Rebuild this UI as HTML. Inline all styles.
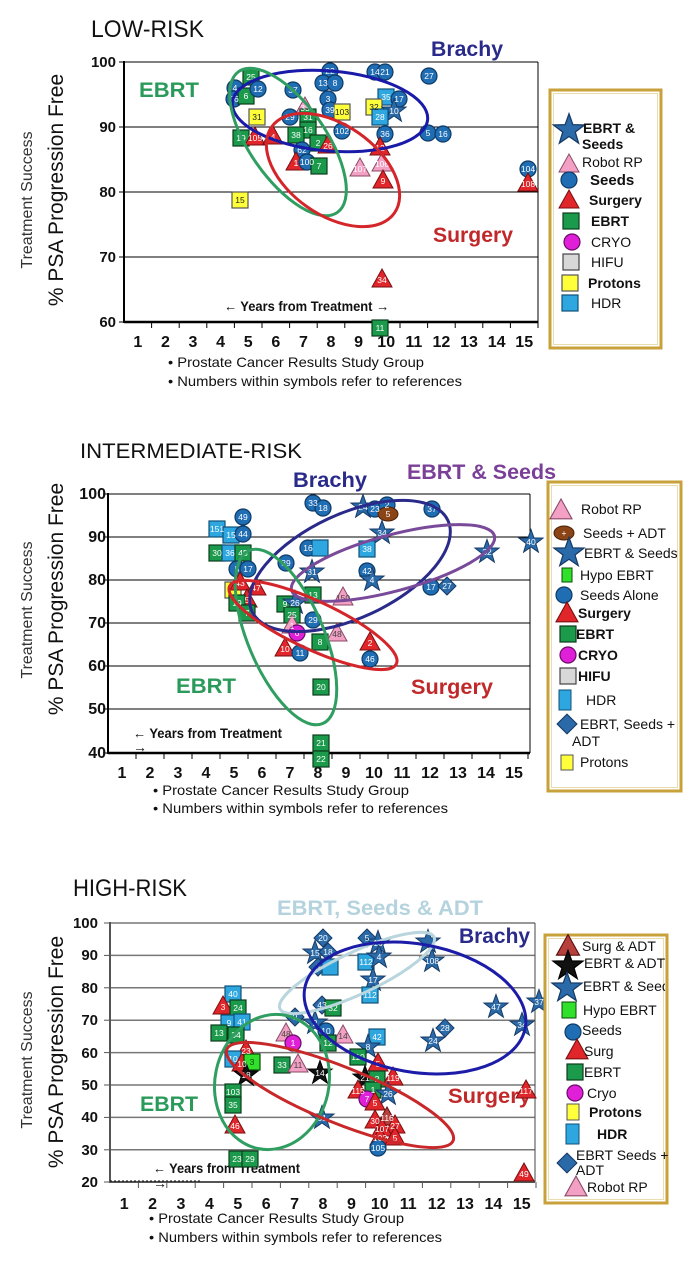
<!DOCTYPE html>
<html><head><meta charset="utf-8">
<style>
html,body{margin:0;padding:0;background:#fff;}
svg{display:block;}
.n{font:8.5px "Liberation Sans Narrow","Liberation Sans",sans-serif;fill:#fff;text-anchor:middle}
.yl{font:bold 15px "Liberation Sans Narrow","Liberation Sans",sans-serif;text-anchor:end;fill:#111}
.xl{font:bold 16px "Liberation Sans Narrow","Liberation Sans",sans-serif;text-anchor:middle;fill:#111}
.fn{font:14px "Liberation Sans Narrow","Liberation Sans",sans-serif;fill:#111}
.yr{font:bold 14px "Liberation Sans Narrow","Liberation Sans",sans-serif;fill:#111}
.lg{font:14px "Liberation Sans Narrow","Liberation Sans",sans-serif;fill:#111}
.lgb{font:bold 14px "Liberation Sans Narrow","Liberation Sans",sans-serif;fill:#111}
.ttl{font:24px "Liberation Sans",sans-serif;fill:#111}
.ax1{font:21px "Liberation Sans",sans-serif;text-anchor:middle;fill:#111}
.ax2{font:16px "Liberation Sans",sans-serif;fill:#333;text-anchor:middle}
.cat{font:bold 21px "Liberation Sans",sans-serif}
.g{stroke:#000;stroke-width:1}
.g3{stroke:#777;stroke-width:1.5}
.el{fill:none;stroke-width:3}
</style></head><body>
<svg width="694" height="1276" viewBox="0 0 694 1276" xmlns="http://www.w3.org/2000/svg">
<defs>
<g id="C"><circle r="8" fill="#1f6db3" stroke="#0e3a66" stroke-width="1.2"/></g>
<g id="M"><circle r="8" fill="#e020d8" stroke="#6a0a66" stroke-width="1.2"/></g>
<g id="E"><rect x="-8" y="-8" width="16" height="16" fill="#1c9a4c" stroke="#0a3d1c" stroke-width="1.2"/></g>
<g id="G"><rect x="-8" y="-8" width="16" height="16" fill="#30e02a" stroke="#0a4a0a" stroke-width="1.2"/></g>
<g id="Y"><rect x="-8" y="-8" width="16" height="16" fill="#ffff3a" stroke="#555" stroke-width="1.2"/></g>
<g id="H"><rect x="-8" y="-8" width="16" height="16" fill="#2ea6e0" stroke="#0f5278" stroke-width="1.2"/></g>
<g id="Q"><rect x="-8" y="-8" width="16" height="16" fill="#d8d8d8" stroke="#444" stroke-width="1.2"/></g>
<g id="T"><polygon points="0,-10 10,8 -10,8" fill="#e0262a" stroke="#7a0e10" stroke-width="1"/></g>
<g id="A"><polygon points="0,-10 10,8 -10,8" fill="#b8403c" stroke="#5a1010" stroke-width="1"/></g>
<g id="P"><polygon points="0,-10 10,8 -10,8" fill="#f2a0c4" stroke="#8a4a66" stroke-width="1"/></g>
<g id="S"><polygon points="0,-12.5 3,-4.1 12,-3.9 4.8,1.6 7.4,10.1 0,5 -7.4,10.1 -4.8,1.6 -12,-3.9 -3,-4.1" fill="#2a6aa8" stroke="#163a66" stroke-width="1"/></g>
<g id="K"><polygon points="0,-12.5 3,-4.1 12,-3.9 4.8,1.6 7.4,10.1 0,5 -7.4,10.1 -4.8,1.6 -12,-3.9 -3,-4.1" fill="#111" stroke="#000" stroke-width="1"/></g>
<g id="D"><polygon points="0,-9 9,0 0,9 -9,0" fill="#2a6aa8" stroke="#163a66" stroke-width="1"/></g>
<g id="B"><ellipse rx="10" ry="7" fill="#8a4416" stroke="#4a2008" stroke-width="1"/></g>
</defs>

<!-- ================= CHART 1 : LOW-RISK ================= -->
<text class="ttl" x="91" y="37" textLength="113" lengthAdjust="spacingAndGlyphs">LOW-RISK</text>
<text class="ax2" transform="translate(32,200) rotate(-90)">Treatment Success</text>
<text class="ax1" transform="translate(63,190) rotate(-90)">% PSA Progression Free</text>

<line class="g" x1="124" y1="62" x2="538" y2="62"/>
<line class="g" x1="124" y1="127" x2="538" y2="127"/>
<line class="g" x1="124" y1="192" x2="538" y2="192"/>
<line class="g" x1="124" y1="257" x2="538" y2="257"/>
<line x1="538" y1="62" x2="538" y2="322" stroke="#000" stroke-width="1"/>
<line x1="124" y1="61" x2="124" y2="323" stroke="#000" stroke-width="2"/>
<line x1="124" y1="322" x2="538" y2="322" stroke="#000" stroke-width="2.5"/>
<g stroke="#000" stroke-width="1">
<line x1="119" y1="62" x2="124" y2="62"/><line x1="119" y1="127" x2="124" y2="127"/><line x1="119" y1="192" x2="124" y2="192"/><line x1="119" y1="257" x2="124" y2="257"/><line x1="119" y1="322" x2="124" y2="322"/>
<line x1="151.6" y1="322" x2="151.6" y2="328"/><line x1="179.2" y1="322" x2="179.2" y2="328"/><line x1="206.8" y1="322" x2="206.8" y2="328"/><line x1="234.4" y1="322" x2="234.4" y2="328"/><line x1="262" y1="322" x2="262" y2="328"/><line x1="289.6" y1="322" x2="289.6" y2="328"/><line x1="317.2" y1="322" x2="317.2" y2="328"/><line x1="344.8" y1="322" x2="344.8" y2="328"/><line x1="372.4" y1="322" x2="372.4" y2="328"/><line x1="400" y1="322" x2="400" y2="328"/><line x1="427.6" y1="322" x2="427.6" y2="328"/><line x1="455.2" y1="322" x2="455.2" y2="328"/><line x1="482.8" y1="322" x2="482.8" y2="328"/><line x1="510.4" y1="322" x2="510.4" y2="328"/><line x1="538" y1="322" x2="538" y2="328"/>
</g>
<text class="yl" x="116" y="67">100</text><text class="yl" x="116" y="132">90</text><text class="yl" x="116" y="197">80</text><text class="yl" x="116" y="262">70</text><text class="yl" x="116" y="327">60</text>
<g class="xl"><text x="137.8" y="347">1</text><text x="165.4" y="347">2</text><text x="193" y="347">3</text><text x="220.6" y="347">4</text><text x="248.2" y="347">5</text><text x="275.8" y="347">6</text><text x="303.4" y="347">7</text><text x="331" y="347">8</text><text x="358.6" y="347">9</text><text x="386.2" y="347">10</text><text x="413.8" y="347">11</text><text x="441.4" y="347">12</text><text x="469" y="347">13</text><text x="496.6" y="347">14</text><text x="524.2" y="347">15</text></g>
<text class="fn" x="168" y="367" textLength="256" lengthAdjust="spacingAndGlyphs">• Prostate Cancer Results Study Group</text>
<text class="fn" x="168" y="386" textLength="294" lengthAdjust="spacingAndGlyphs">• Numbers within symbols refer to references</text>
<text class="yr" x="224" y="311" textLength="165" lengthAdjust="spacingAndGlyphs">← Years from Treatment →</text>

<text class="cat" x="139" y="97" fill="#2a9a5a" textLength="60" lengthAdjust="spacingAndGlyphs">EBRT</text>
<text class="cat" x="431" y="56" fill="#2a2a8a" textLength="72" lengthAdjust="spacingAndGlyphs">Brachy</text>
<text class="cat" x="433" y="242" fill="#c0282a" textLength="80" lengthAdjust="spacingAndGlyphs">Surgery</text>

<!-- markers chart 1 -->
<use href="#E" x="251" y="77"/><use href="#C" x="235" y="88"/><use href="#C" x="234" y="99"/><use href="#E" x="246" y="96"/><use href="#C" x="258" y="89"/><use href="#C" x="293" y="90"/>
<use href="#Y" x="257" y="117"/><use href="#P" x="305" y="107"/><use href="#C" x="290" y="117"/><use href="#E" x="308" y="117"/><use href="#E" x="308" y="130"/><use href="#E" x="296" y="135"/>
<use href="#E" x="241" y="138"/><use href="#T" x="255" y="137"/><use href="#T" x="273" y="136"/><use href="#E" x="318" y="143"/><use href="#T" x="328" y="145"/>
<use href="#C" x="302" y="150"/><use href="#T" x="296" y="162"/><use href="#C" x="307" y="162"/><use href="#E" x="319" y="166"/>
<use href="#C" x="330" y="71"/><use href="#C" x="323" y="83"/><use href="#C" x="335" y="83"/><use href="#C" x="328" y="99"/><use href="#C" x="330" y="110"/><use href="#Y" x="342" y="112"/><use href="#C" x="342" y="131"/>
<use href="#C" x="375" y="72"/><use href="#C" x="385" y="72"/><use href="#C" x="429" y="76"/><use href="#H" x="386" y="97"/><use href="#C" x="399" y="99"/><use href="#Y" x="374" y="107"/><use href="#S" x="394" y="111"/><use href="#H" x="380" y="117"/>
<use href="#C" x="385" y="134"/><use href="#C" x="428" y="133"/><use href="#C" x="443" y="134"/><use href="#T" x="380" y="147"/><use href="#P" x="360" y="168"/><use href="#P" x="382" y="163"/><use href="#T" x="383" y="180"/>
<use href="#C" x="528" y="169"/><use href="#T" x="528" y="183"/><use href="#Y" x="240" y="200"/><use href="#T" x="382" y="279"/><use href="#E" x="380" y="328"/>
<g class="n">
<text x="251" y="80">25</text><text x="235" y="91">4</text><text x="234" y="102">36</text><text x="246" y="99">6</text><text x="258" y="92">12</text><text x="293" y="93">37</text>
<text x="257" y="120" fill="#222">31</text><text x="305" y="111">33</text><text x="290" y="120">29</text><text x="308" y="120">31</text><text x="308" y="133">16</text><text x="296" y="138">38</text>
<text x="241" y="141">19</text><text x="255" y="141">105</text><text x="273" y="140">4</text><text x="318" y="146">2</text><text x="328" y="149">26</text>
<text x="302" y="153">62</text><text x="296" y="166">1</text><text x="307" y="165">100</text><text x="319" y="169">7</text>
<text x="330" y="74">22</text><text x="323" y="86">13</text><text x="335" y="86">8</text><text x="328" y="102">3</text><text x="330" y="113">39</text><text x="342" y="115" fill="#222">103</text><text x="342" y="134">102</text>
<text x="375" y="75">14</text><text x="385" y="75">21</text><text x="429" y="79">27</text><text x="386" y="100">35</text><text x="399" y="102">17</text><text x="374" y="110" fill="#222">32</text><text x="394" y="114">10</text><text x="380" y="120">28</text>
<text x="385" y="137">36</text><text x="428" y="136">5</text><text x="443" y="137">16</text><text x="380" y="151">12</text><text x="360" y="172">107</text><text x="382" y="167">106</text><text x="383" y="184">9</text>
<text x="528" y="172">104</text><text x="528" y="187">108</text><text x="240" y="203" fill="#222">15</text><text x="382" y="283">34</text><text x="380" y="331">11</text>
</g>
<!-- ellipses chart 1 -->
<ellipse class="el" stroke="#1a1aa8" cx="330" cy="111" rx="98" ry="40" transform="rotate(5 330 111)"/>
<ellipse class="el" stroke="#2f9e60" cx="288" cy="142" rx="86" ry="38" transform="rotate(55 288 142)"/>
<ellipse class="el" stroke="#d4262a" cx="333" cy="170" rx="75" ry="45" transform="rotate(35 333 170)"/>

<!-- legend chart 1 -->
<rect x="550" y="90" width="111" height="258" fill="#fff" stroke="#c8a13a" stroke-width="3"/>
<rect x="553.5" y="93.5" width="104" height="251" fill="none" stroke="#eadcae" stroke-width="1"/>
<use href="#S" transform="translate(569,130) scale(1.3)"/>
<use href="#P" x="569" y="164"/><use href="#C" x="569" y="180"/>
<use href="#T" x="569" y="200"/><use href="#E" x="571" y="221"/><use href="#M" x="572" y="242"/><use href="#Q" x="571" y="262"/><use href="#Y" x="570" y="283"/><use href="#H" x="570" y="303"/>
<text class="lgb" x="583" y="133">EBRT &amp;</text><text class="lgb" x="582" y="149">Seeds</text>
<text class="lg" x="582" y="167">Robot RP</text><text class="lgb" x="590" y="185" style="font-size:15px">Seeds</text>
<text class="lgb" x="589" y="205">Surgery</text><text class="lgb" x="591" y="226">EBRT</text>
<text class="lg" x="591" y="247">CRYO</text><text class="lg" x="591" y="267">HIFU</text>
<text class="lgb" x="588" y="288" style="font-weight:600">Protons</text><text class="lg" x="591" y="308">HDR</text>

<!-- ================= CHART 2 : INTERMEDIATE-RISK ================= -->
<text class="ttl" x="80" y="458" style="font-size:21px" textLength="222" lengthAdjust="spacingAndGlyphs">INTERMEDIATE-RISK</text>
<text class="ax2" transform="translate(32,610) rotate(-90)">Treatment Success</text>
<text class="ax1" transform="translate(63,599) rotate(-90)">% PSA Progression Free</text>

<line class="g" x1="108" y1="494" x2="530" y2="494"/>
<line class="g" x1="108" y1="537" x2="530" y2="537"/>
<line class="g" x1="108" y1="580" x2="530" y2="580"/>
<line class="g" x1="108" y1="623" x2="530" y2="623"/>
<line class="g" x1="108" y1="666" x2="530" y2="666"/>
<line class="g" x1="108" y1="709" x2="530" y2="709"/>
<line x1="530" y1="494" x2="530" y2="753" stroke="#000" stroke-width="1"/>
<line x1="108" y1="493" x2="108" y2="754" stroke="#000" stroke-width="2"/>
<line x1="108" y1="753" x2="530" y2="753" stroke="#000" stroke-width="2.5"/>
<g stroke="#000" stroke-width="1">
<line x1="103" y1="494" x2="108" y2="494"/><line x1="103" y1="537" x2="108" y2="537"/><line x1="103" y1="580" x2="108" y2="580"/><line x1="103" y1="623" x2="108" y2="623"/><line x1="103" y1="666" x2="108" y2="666"/><line x1="103" y1="709" x2="108" y2="709"/><line x1="103" y1="753" x2="108" y2="753"/>
<line x1="136" y1="753" x2="136" y2="759"/><line x1="164" y1="753" x2="164" y2="759"/><line x1="192" y1="753" x2="192" y2="759"/><line x1="220" y1="753" x2="220" y2="759"/><line x1="248" y1="753" x2="248" y2="759"/><line x1="276" y1="753" x2="276" y2="759"/><line x1="304" y1="753" x2="304" y2="759"/><line x1="332" y1="753" x2="332" y2="759"/><line x1="360" y1="753" x2="360" y2="759"/><line x1="388" y1="753" x2="388" y2="759"/><line x1="416" y1="753" x2="416" y2="759"/><line x1="444" y1="753" x2="444" y2="759"/><line x1="472" y1="753" x2="472" y2="759"/><line x1="500" y1="753" x2="500" y2="759"/><line x1="528" y1="753" x2="528" y2="759"/>
</g>
<text class="yl" x="106" y="499" style="font-size:16px">100</text><text class="yl" x="106" y="542" style="font-size:16px">90</text><text class="yl" x="106" y="585" style="font-size:16px">80</text><text class="yl" x="106" y="628" style="font-size:16px">70</text><text class="yl" x="106" y="671" style="font-size:16px">60</text><text class="yl" x="106" y="714" style="font-size:16px">50</text><text class="yl" x="106" y="758" style="font-size:16px">40</text>
<g class="xl"><text x="122" y="778">1</text><text x="150" y="778">2</text><text x="178" y="778">3</text><text x="206" y="778">4</text><text x="234" y="778">5</text><text x="262" y="778">6</text><text x="290" y="778">7</text><text x="318" y="778">8</text><text x="346" y="778">9</text><text x="374" y="778">10</text><text x="402" y="778">11</text><text x="430" y="778">12</text><text x="458" y="778">13</text><text x="486" y="778">14</text><text x="514" y="778">15</text></g>
<text class="fn" x="153" y="795" textLength="256" lengthAdjust="spacingAndGlyphs">• Prostate Cancer Results Study Group</text>
<text class="fn" x="153" y="813" textLength="295" lengthAdjust="spacingAndGlyphs">• Numbers within symbols refer to references</text>
<text class="yr" x="133" y="738" textLength="149" lengthAdjust="spacingAndGlyphs">← Years from Treatment</text>
<text class="yr" x="133" y="752">→</text>

<text class="cat" x="293" y="487" fill="#2a2a8a" textLength="74" lengthAdjust="spacingAndGlyphs">Brachy</text>
<text class="cat" x="407" y="479" fill="#7b3f98" textLength="149" lengthAdjust="spacingAndGlyphs">EBRT &amp; Seeds</text>
<text class="cat" x="176" y="693" fill="#2a9a5a" textLength="60" lengthAdjust="spacingAndGlyphs">EBRT</text>
<text class="cat" x="411" y="694" fill="#c0282a" textLength="82" lengthAdjust="spacingAndGlyphs">Surgery</text>

<!-- markers chart 2 -->
<use href="#C" x="313" y="503"/><use href="#C" x="323" y="508"/><use href="#S" x="363" y="507"/><use href="#C" x="375" y="509"/><use href="#C" x="387" y="505"/><use href="#B" x="388" y="514"/><use href="#C" x="432" y="509"/>
<use href="#C" x="243" y="517"/><use href="#H" x="217" y="529"/><use href="#H" x="231" y="535"/><use href="#C" x="243" y="534"/><use href="#S" x="382" y="533"/>
<use href="#C" x="308" y="548"/><use href="#H" x="320" y="548"/><use href="#H" x="367" y="549"/><use href="#S" x="487" y="552"/><use href="#S" x="531" y="542"/>
<use href="#E" x="217" y="553"/><use href="#H" x="230" y="553"/><use href="#E" x="243" y="553"/><use href="#C" x="286" y="563"/><use href="#C" x="237" y="569"/><use href="#C" x="248" y="569"/>
<use href="#S" x="312" y="572"/><use href="#C" x="367" y="571"/><use href="#S" x="372" y="580"/><use href="#C" x="431" y="587"/><use href="#D" x="447" y="586"/>
<use href="#Y" x="233" y="590"/><use href="#T" x="240" y="582"/><use href="#T" x="256" y="587"/><use href="#E" x="313" y="595"/><use href="#P" x="343" y="597"/><use href="#T" x="247" y="599"/>
<use href="#E" x="237" y="603"/><use href="#E" x="285" y="604"/><use href="#S" x="295" y="603"/><use href="#E" x="247" y="613"/><use href="#E" x="292" y="615"/><use href="#C" x="313" y="620"/>
<use href="#P" x="292" y="625"/><use href="#M" x="297" y="633"/><use href="#P" x="337" y="633"/><use href="#E" x="320" y="642"/><use href="#T" x="370" y="642"/><use href="#T" x="285" y="648"/><use href="#C" x="300" y="653"/><use href="#C" x="370" y="659"/>
<use href="#E" x="321" y="687"/><use href="#E" x="321" y="743"/><use href="#E" x="321" y="759"/>
<g class="n">
<text x="313" y="506">33</text><text x="323" y="511">18</text><text x="363" y="510">24</text><text x="375" y="512">23</text><text x="387" y="508">2</text><text x="388" y="517">5</text><text x="432" y="512">37</text>
<text x="243" y="520">49</text><text x="217" y="532">151</text><text x="231" y="538">15</text><text x="243" y="537">44</text><text x="382" y="536">34</text>
<text x="308" y="551">16</text><text x="367" y="552">38</text><text x="487" y="555">32</text><text x="531" y="545">40</text>
<text x="217" y="556">30</text><text x="230" y="556">36</text><text x="243" y="556">45</text><text x="286" y="566">39</text><text x="237" y="572">5</text><text x="248" y="572">17</text>
<text x="312" y="575">31</text><text x="367" y="574">42</text><text x="372" y="583">4</text><text x="431" y="590">17</text><text x="447" y="589">27</text>
<text x="240" y="586">43</text><text x="256" y="591">47</text><text x="313" y="598">13</text><text x="343" y="601" fill="#444">150</text><text x="247" y="603">5</text>
<text x="237" y="606">19</text><text x="285" y="607">9</text><text x="295" y="606">26</text><text x="247" y="616">7</text><text x="292" y="618">25</text><text x="313" y="623">29</text>
<text x="292" y="629">1</text><text x="297" y="636">6</text><text x="337" y="637" fill="#444">48</text><text x="320" y="645">8</text><text x="370" y="646">2</text><text x="285" y="652">10</text><text x="300" y="656">11</text><text x="370" y="662">46</text>
<text x="321" y="690">20</text><text x="321" y="746">21</text><text x="321" y="762">22</text>
</g>
<!-- ellipses chart 2 -->
<ellipse class="el" stroke="#2a2a8a" cx="350" cy="566" rx="108" ry="52" transform="rotate(-25 350 566)"/>
<ellipse class="el" stroke="#7a4a9a" cx="393" cy="563" rx="105" ry="28" transform="rotate(-15 393 563)"/>
<ellipse class="el" stroke="#2f9e60" cx="286" cy="637" rx="94" ry="38" transform="rotate(67 286 637)"/>
<ellipse class="el" stroke="#d4262a" cx="313" cy="625" rx="92" ry="24" transform="rotate(25 313 625)"/>

<!-- legend chart 2 -->
<rect x="548" y="482" width="133" height="309" fill="#fff" stroke="#c8a13a" stroke-width="3"/>
<rect x="551.5" y="485.5" width="126" height="302" fill="none" stroke="#eadcae" stroke-width="1"/>
<use href="#P" transform="translate(561,510) scale(1.1)"/>
<g transform="translate(564,533)"><use href="#B"/><text class="n" x="0" y="3">+</text></g>
<use href="#S" transform="translate(569,553) scale(1.25)"/>
<rect x="562" y="568" width="10" height="14" fill="#30e02a" stroke="#0a4a0a"/>
<use href="#C" x="564" y="595"/>
<use href="#T" transform="translate(567,613) scale(1.1)"/>
<use href="#E" x="568" y="634"/><use href="#M" x="568" y="655"/><use href="#Q" x="568" y="676"/>
<rect x="559" y="690" width="12" height="20" fill="#2ea6e0" stroke="#0f5278"/>
<use href="#D" transform="translate(567,724) scale(1.1)"/>
<rect x="561" y="755" width="12" height="15" fill="#ffff3a" stroke="#555"/>
<text class="lg" x="581" y="514">Robot RP</text>
<text class="lg" x="583" y="538">Seeds + ADT</text>
<text class="lg" x="584" y="558">EBRT &amp; Seeds</text>
<text class="lg" x="580" y="580">Hypo EBRT</text>
<text class="lg" x="580" y="600">Seeds Alone</text>
<text class="lgb" x="578" y="618">Surgery</text>
<text class="lgb" x="576" y="639">EBRT</text>
<text class="lgb" x="578" y="660">CRYO</text>
<text class="lgb" x="578" y="681">HIFU</text>
<text class="lg" x="586" y="705">HDR</text>
<text class="lg" x="580" y="729">EBRT, Seeds +</text>
<text class="lg" x="572" y="746">ADT</text>
<text class="lg" x="580" y="767">Protons</text>

<!-- ================= CHART 3 : HIGH-RISK ================= -->
<text class="ttl" x="73" y="896" textLength="114" lengthAdjust="spacingAndGlyphs">HIGH-RISK</text>
<text class="ax2" transform="translate(32,1060) rotate(-90)">Treatment Success</text>
<text class="ax1" transform="translate(63,1052) rotate(-90)">% PSA Progression Free</text>

<g class="g3">
<line x1="110" y1="923" x2="535" y2="923"/><line x1="110" y1="955.4" x2="535" y2="955.4"/><line x1="110" y1="987.8" x2="535" y2="987.8"/><line x1="110" y1="1020.2" x2="535" y2="1020.2"/><line x1="110" y1="1052.6" x2="535" y2="1052.6"/><line x1="110" y1="1085" x2="535" y2="1085"/><line x1="110" y1="1117.4" x2="535" y2="1117.4"/><line x1="110" y1="1149.8" x2="535" y2="1149.8"/>
</g>
<line x1="535" y1="923" x2="535" y2="1182" stroke="#444" stroke-width="1"/>
<line x1="110" y1="922" x2="110" y2="1183" stroke="#555" stroke-width="2"/>
<line x1="110" y1="1182" x2="535" y2="1182" stroke="#555" stroke-width="2"/>
<g stroke="#555" stroke-width="1">
<line x1="104" y1="923" x2="110" y2="923"/><line x1="104" y1="955.4" x2="110" y2="955.4"/><line x1="104" y1="987.8" x2="110" y2="987.8"/><line x1="104" y1="1020.2" x2="110" y2="1020.2"/><line x1="104" y1="1052.6" x2="110" y2="1052.6"/><line x1="104" y1="1085" x2="110" y2="1085"/><line x1="104" y1="1117.4" x2="110" y2="1117.4"/><line x1="104" y1="1149.8" x2="110" y2="1149.8"/><line x1="104" y1="1182" x2="110" y2="1182"/>
<line x1="138.4" y1="1182" x2="138.4" y2="1188"/><line x1="166.8" y1="1182" x2="166.8" y2="1188"/><line x1="195.2" y1="1182" x2="195.2" y2="1188"/><line x1="223.6" y1="1182" x2="223.6" y2="1188"/><line x1="252" y1="1182" x2="252" y2="1188"/><line x1="280.4" y1="1182" x2="280.4" y2="1188"/><line x1="308.8" y1="1182" x2="308.8" y2="1188"/><line x1="337.2" y1="1182" x2="337.2" y2="1188"/><line x1="365.6" y1="1182" x2="365.6" y2="1188"/><line x1="394" y1="1182" x2="394" y2="1188"/><line x1="422.4" y1="1182" x2="422.4" y2="1188"/><line x1="450.8" y1="1182" x2="450.8" y2="1188"/><line x1="479.2" y1="1182" x2="479.2" y2="1188"/><line x1="507.6" y1="1182" x2="507.6" y2="1188"/><line x1="536" y1="1182" x2="536" y2="1188"/>
</g>
<line x1="110" y1="1181" x2="200" y2="1181" stroke="#000" stroke-width="1" stroke-dasharray="2,2"/>
<text class="yl" x="98" y="928">100</text><text class="yl" x="98" y="960">90</text><text class="yl" x="98" y="993">80</text><text class="yl" x="98" y="1025">70</text><text class="yl" x="98" y="1058">60</text><text class="yl" x="98" y="1090">50</text><text class="yl" x="98" y="1122">40</text><text class="yl" x="98" y="1155">30</text><text class="yl" x="98" y="1187">20</text>
<g class="xl"><text x="124.2" y="1209">1</text><text x="152.6" y="1209">2</text><text x="181" y="1209">3</text><text x="209.4" y="1209">4</text><text x="237.8" y="1209">5</text><text x="266.2" y="1209">6</text><text x="294.6" y="1209">7</text><text x="323" y="1209">8</text><text x="351.4" y="1209">9</text><text x="379.8" y="1209">10</text><text x="408.2" y="1209">11</text><text x="436.6" y="1209">12</text><text x="465" y="1209">13</text><text x="493.4" y="1209">14</text><text x="521.8" y="1209">15</text></g>
<text class="fn" x="149" y="1223" textLength="255" lengthAdjust="spacingAndGlyphs">• Prostate Cancer Results Study Group</text>
<text class="fn" x="149" y="1242" textLength="293" lengthAdjust="spacingAndGlyphs">• Numbers within symbols refer to references</text>
<text class="yr" x="153" y="1173" textLength="147" lengthAdjust="spacingAndGlyphs">← Years from Treatment</text>
<text class="yr" x="153" y="1188">→</text>

<text class="cat" x="277" y="915" fill="#b5d3de" textLength="206" lengthAdjust="spacingAndGlyphs">EBRT, Seeds &amp; ADT</text>
<text class="cat" x="459" y="943" fill="#2a2a8a" textLength="71" lengthAdjust="spacingAndGlyphs">Brachy</text>
<text class="cat" x="140" y="1111" fill="#2a9a5a" textLength="58" lengthAdjust="spacingAndGlyphs">EBRT</text>
<text class="cat" x="448" y="1103" fill="#c0282a" textLength="83" lengthAdjust="spacingAndGlyphs">Surgery</text>

<!-- markers chart 3 -->
<use href="#D" x="323" y="938"/><use href="#S" x="315" y="953"/><use href="#D" x="328" y="952"/><use href="#D" x="318" y="967"/><use href="#H" x="330" y="967"/>
<use href="#D" x="367" y="938"/><use href="#S" x="378" y="943"/><use href="#S" x="428" y="942"/><use href="#H" x="366" y="962"/><use href="#S" x="379" y="957"/><use href="#S" x="432" y="961"/>
<use href="#S" x="373" y="980"/><use href="#H" x="370" y="995"/><use href="#S" x="496" y="1007"/><use href="#S" x="539" y="1002"/><use href="#S" x="522" y="1025"/><use href="#D" x="445" y="1028"/><use href="#S" x="433" y="1041"/>
<use href="#H" x="233" y="994"/><use href="#T" x="223" y="1006"/><use href="#E" x="238" y="1008"/><use href="#H" x="229" y="1023"/><use href="#H" x="242" y="1022"/><use href="#E" x="219" y="1033"/><use href="#E" x="236" y="1035"/>
<use href="#D" x="322" y="1005"/><use href="#E" x="333" y="1008"/><use href="#D" x="295" y="1017"/><use href="#S" x="315" y="1023"/><use href="#P" x="286" y="1033"/><use href="#M" x="293" y="1043"/>
<use href="#C" x="326" y="1031"/><use href="#P" x="343" y="1035"/><use href="#E" x="328" y="1043"/><use href="#H" x="377" y="1037"/><use href="#S" x="368" y="1047"/><use href="#E" x="358" y="1057"/>
<use href="#T" x="246" y="1050"/><use href="#H" x="233" y="1059"/><use href="#T" x="242" y="1063"/><use href="#G" x="252" y="1062"/><use href="#K" x="246" y="1075"/>
<use href="#E" x="282" y="1065"/><use href="#P" x="298" y="1064"/><use href="#K" x="320" y="1073"/>
<use href="#T" x="378" y="1063"/><use href="#K" x="365" y="1078"/><use href="#E" x="377" y="1079"/><use href="#T" x="393" y="1077"/><use href="#T" x="358" y="1090"/><use href="#E" x="373" y="1090"/><use href="#S" x="388" y="1094"/>
<use href="#M" x="367" y="1099"/><use href="#T" x="375" y="1102"/>
<use href="#E" x="233" y="1092"/><use href="#E" x="233" y="1105"/><use href="#T" x="235" y="1125"/><use href="#S" x="322" y="1118"/>
<use href="#T" x="375" y="1120"/><use href="#A" x="387" y="1117"/><use href="#T" x="395" y="1125"/><use href="#T" x="382" y="1128"/><use href="#T" x="380" y="1137"/><use href="#T" x="395" y="1137"/><use href="#C" x="378" y="1148"/>
<use href="#E" x="237" y="1159"/><use href="#E" x="250" y="1159"/><use href="#T" x="526" y="1090"/><use href="#T" x="524" y="1173"/>
<g class="n">
<text x="323" y="941">20</text><text x="315" y="956">15</text><text x="328" y="955">18</text><text x="318" y="970">3</text>
<text x="367" y="941">5</text><text x="378" y="946">16</text><text x="366" y="965">112</text><text x="379" y="960">4</text><text x="432" y="964">108</text>
<text x="373" y="983">17</text><text x="370" y="998">112</text><text x="496" y="1010">47</text><text x="539" y="1005">37</text><text x="522" y="1028">34</text><text x="445" y="1031">28</text><text x="433" y="1044">24</text>
<text x="233" y="997">40</text><text x="223" y="1010">3</text><text x="238" y="1011">24</text><text x="229" y="1026">9</text><text x="242" y="1025">41</text><text x="219" y="1036">13</text><text x="236" y="1038">34</text>
<text x="322" y="1008">43</text><text x="333" y="1011">32</text><text x="295" y="1020">9</text><text x="315" y="1026">2</text><text x="286" y="1037" fill="#444">48</text><text x="293" y="1046">1</text>
<text x="326" y="1034">10</text><text x="343" y="1039" fill="#444">14</text><text x="328" y="1046">12</text><text x="377" y="1040">42</text><text x="368" y="1050">8</text><text x="358" y="1060">110</text>
<text x="246" y="1054">23</text><text x="233" y="1062">10</text><text x="242" y="1067">10</text><text x="252" y="1065" fill="#0a4a0a">3</text><text x="246" y="1078">18</text>
<text x="282" y="1068">33</text><text x="298" y="1068" fill="#444">11</text><text x="320" y="1076">14</text>
<text x="378" y="1067">5</text><text x="365" y="1081">21</text><text x="377" y="1082">2</text><text x="393" y="1081">119</text><text x="358" y="1094">115</text><text x="373" y="1093">1</text><text x="388" y="1097">26</text>
<text x="367" y="1102">7</text><text x="375" y="1106">5</text>
<text x="233" y="1095">103</text><text x="233" y="1108">35</text><text x="235" y="1129">46</text><text x="322" y="1121">31</text>
<text x="375" y="1124">30</text><text x="387" y="1121">116</text><text x="395" y="1129">27</text><text x="382" y="1132">107</text><text x="380" y="1141">102</text><text x="395" y="1141">5</text><text x="378" y="1151">105</text>
<text x="237" y="1162">23</text><text x="250" y="1162">29</text><text x="526" y="1094">117</text><text x="524" y="1177">49</text>
</g>
<!-- ellipses chart 3 -->
<ellipse class="el" stroke="#b9d5dd" cx="357" cy="973" rx="85" ry="21" transform="rotate(-25 357 973)"/>
<ellipse class="el" stroke="#1c1ca8" cx="415" cy="1008" rx="112" ry="64" transform="rotate(10 415 1008)"/>
<ellipse class="el" stroke="#2f9e60" cx="272" cy="1082" rx="68" ry="57" transform="rotate(102 272 1082)"/>
<ellipse class="el" stroke="#c8282a" cx="340" cy="1095" rx="122" ry="28" transform="rotate(22 340 1095)"/>

<!-- legend chart 3 -->
<rect x="545" y="935" width="122" height="268" fill="#fff" stroke="#c8a13a" stroke-width="3"/>
<rect x="548.5" y="938.5" width="115" height="261" fill="none" stroke="#eadcae" stroke-width="1"/>
<use href="#A" transform="translate(568,946) scale(1.15)"/>
<use href="#K" transform="translate(568,966) scale(1.25)"/>
<use href="#S" transform="translate(567,988) scale(1.25)"/>
<rect x="562" y="1002" width="14" height="16" fill="#30e02a" stroke="#0a4a0a"/>
<use href="#C" x="573" y="1032"/>
<use href="#T" transform="translate(577,1050) scale(1.1)"/>
<use href="#E" x="575" y="1072"/><use href="#M" x="575" y="1093"/>
<rect x="567" y="1104" width="12" height="16" fill="#ffff3a" stroke="#555"/>
<rect x="566" y="1124" width="13" height="20" fill="#2ea6e0" stroke="#0f5278"/>
<use href="#D" transform="translate(567,1163) scale(1.1)"/>
<use href="#P" transform="translate(576,1187) scale(1.1)"/>
<text class="lg" x="582" y="951">Surg &amp; ADT</text>
<text class="lg" x="584" y="968">EBRT &amp; ADT</text>
<svg x="545" y="935" width="120" height="268" overflow="hidden"><text class="lg" x="38" y="56">EBRT &amp; Seeds</text></svg>
<text class="lg" x="583" y="1015">Hypo EBRT</text>
<text class="lg" x="582" y="1035">Seeds</text>
<text class="lg" x="584" y="1056">Surg</text>
<text class="lg" x="584" y="1077">EBRT</text>
<text class="lg" x="587" y="1098">Cryo</text>
<text class="lgb" x="589" y="1117">Protons</text>
<text class="lgb" x="597" y="1139">HDR</text>
<text class="lg" x="576" y="1160">EBRT Seeds +</text>
<text class="lg" x="576" y="1175">ADT</text>
<text class="lg" x="587" y="1192">Robot RP</text>
</svg>
</body></html>
